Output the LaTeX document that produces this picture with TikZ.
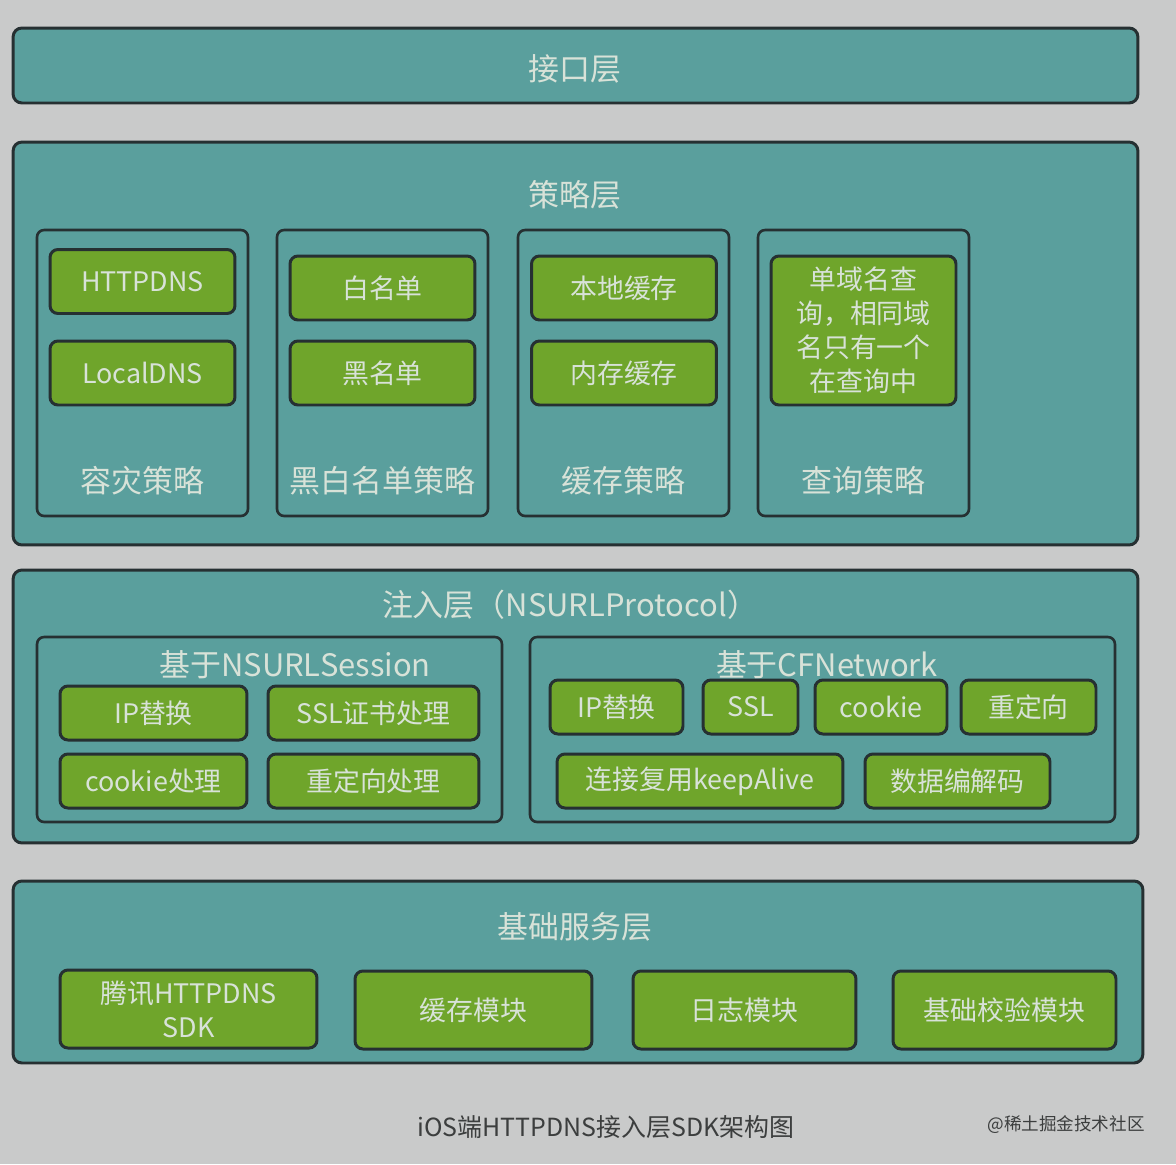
\documentclass[tikz,border=0pt]{standalone}
\usepackage{fontspec}
\setmainfont{Noto Sans CJK SC}
\usepackage{xcolor}
\usetikzlibrary{positioning}
\definecolor{bggray}{RGB}{201,202,202}
\definecolor{edge}{RGB}{38,48,50}
\definecolor{tealbox}{RGB}{90,159,157}
\definecolor{leaf}{RGB}{111,165,43}
\definecolor{pale}{RGB}{216,226,216}
\definecolor{capgray}{RGB}{60,62,62}
\tikzset{
  layer/.style={draw=edge,fill=tealbox,line width=1.7pt,rounded corners=5pt,inner sep=0pt,outer sep=0pt},
  group/.style={draw=edge,fill=tealbox,line width=1.5pt,rounded corners=4pt,inner sep=0pt,outer sep=0pt},
  item/.style={draw=edge,fill=leaf,line width=1.7pt,rounded corners=4.5pt,inner sep=0pt,outer sep=0pt,
    text=pale,align=center,font=\fontsize{15.3}{19.3}\selectfont},
  ttl/.style={text=pale,inner sep=0pt,font=\fontsize{17.6}{21}\selectfont}
}

\begin{document}
\begin{tikzpicture}[x=0.02cm,y=-0.02cm]
\useasboundingbox[fill=bggray] (0,0) rectangle (1176,1164);
% 接口层
\node[layer,minimum width=22.5cm,minimum height=1.5cm] (api) at (575.5,65.5) {};
\node[ttl] (apiT) at (575,69) {接口层};
% 策略层
\node[layer,minimum width=22.5cm,minimum height=8.06cm] (policy) at (575.5,343.5) {};
\node[ttl] (policyT) at (575,195) {策略层};
\foreach \cx/\nm/\lb in {142.5/dr/容灾策略,382.5/bw/黑白名单策略,623.5/ca/缓存策略,863.5/qu/查询策略}{
  \node[group,minimum width=4.22cm,minimum height=5.72cm] (\nm) at (\cx,373) {};
  \node[ttl] (\nm T) at (\cx,481) {\lb};
}
\node[item,minimum width=3.7cm,minimum height=1.28cm] (httpdns) at (142.5,281.5) {HTTPDNS};
\node[item,minimum width=3.7cm,minimum height=1.28cm] (localdns) at (142.5,373) {LocalDNS};
\node[item,minimum width=3.7cm,minimum height=1.28cm] (white) at (382.5,288) {白名单};
\node[item,minimum width=3.7cm,minimum height=1.28cm] (black) at (382.5,373) {黑名单};
\node[item,minimum width=3.7cm,minimum height=1.28cm] (disk) at (624,288) {本地缓存};
\node[item,minimum width=3.7cm,minimum height=1.28cm] (mem) at (624,373) {内存缓存};
\node[item,minimum width=3.7cm,minimum height=2.98cm] (single) at (863.5,330.5)
  {单域名查\\询，相同域\\名只有一个\\在查询中};
% 注入层
\node[layer,minimum width=22.5cm,minimum height=5.46cm] (inject) at (575.5,706.5) {};
\node[ttl] (injectT) at (570,605) {注入层（NSURLProtocol）};
\node[group,minimum width=9.3cm,minimum height=3.7cm] (session) at (269.5,729.5) {};
\node[ttl] (sessionT) at (295,665) {基于NSURLSession};
\node[item,minimum width=3.74cm,minimum height=1.08cm] (sIP) at (153.5,713) {IP替换};
\node[item,minimum width=4.22cm,minimum height=1.08cm] (sSSL) at (373.5,713) {SSL证书处理};
\node[item,minimum width=3.74cm,minimum height=1.08cm] (sCookie) at (153.5,781) {cookie处理};
\node[item,minimum width=4.22cm,minimum height=1.08cm] (sRedir) at (373.5,781) {重定向处理};
\node[group,minimum width=11.7cm,minimum height=3.7cm] (cfnet) at (822.5,729.5) {};
\node[ttl] (cfnetT) at (827,665) {基于CFNetwork};
\node[item,minimum width=2.66cm,minimum height=1.08cm] (cIP) at (616.5,707) {IP替换};
\node[item,minimum width=1.9cm,minimum height=1.08cm] (cSSL) at (750.5,707) {SSL};
\node[item,minimum width=2.64cm,minimum height=1.08cm] (cCookie) at (881,707) {cookie};
\node[item,minimum width=2.7cm,minimum height=1.08cm] (cRedir) at (1028.5,707) {重定向};
\node[item,minimum width=5.72cm,minimum height=1.08cm] (cAlive) at (700,781) {连接复用keepAlive};
\node[item,minimum width=3.7cm,minimum height=1.08cm] (cCodec) at (957.5,781) {数据编解码};
% 基础服务层
\node[layer,minimum width=22.6cm,minimum height=3.64cm] (base) at (578,972) {};
\node[ttl] (baseT) at (575,927) {基础服务层};
\node[item,minimum width=5.14cm,minimum height=1.56cm] (sdk) at (188.5,1009) {腾讯HTTPDNS\\SDK};
\node[item,minimum width=4.74cm,minimum height=1.56cm] (cacheM) at (473.5,1010) {缓存模块};
\node[item,minimum width=4.46cm,minimum height=1.56cm] (logM) at (744.5,1010) {日志模块};
\node[item,minimum width=4.46cm,minimum height=1.56cm] (checkM) at (1004.5,1010) {基础校验模块};
% caption
\node[text=capgray,inner sep=0pt,font=\fontsize{14.2}{17}\selectfont] (caption) at (606,1127) {iOS端HTTPDNS接入层SDK架构图};
\node[text=capgray,inner sep=0pt,font=\fontsize{10}{12}\selectfont] (mark) at (1066,1125) {@稀土掘金技术社区};
\end{tikzpicture}
\end{document}
